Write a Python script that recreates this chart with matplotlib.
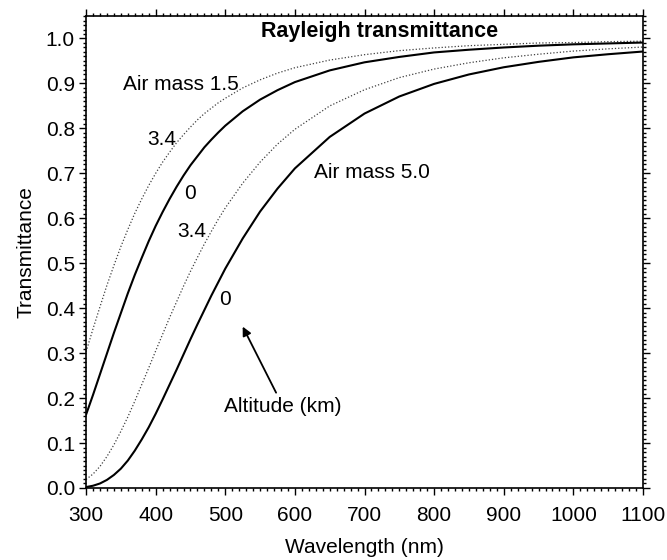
import matplotlib
matplotlib.use("Agg")
import matplotlib.pyplot as plt
from matplotlib.ticker import MultipleLocator

plt.rcParams['font.family'] = ['Liberation Sans', 'DejaVu Sans']

# Wavelength (nm)
wavelength = [300, 310, 320, 330, 340, 350, 360, 370, 380, 390, 400, 410, 420, 430,
              440, 450, 460, 470, 480, 490, 500, 525, 550, 575, 600, 650, 700, 750,
              800, 850, 900, 950, 1000, 1050, 1100]

# Air mass 1.5, altitude 0 km (solid)
am15_0km = [0.163, 0.207, 0.253, 0.299, 0.345, 0.389, 0.433, 0.474, 0.512, 0.549,
            0.583, 0.614, 0.643, 0.670, 0.695, 0.718, 0.738, 0.758, 0.775, 0.791,
            0.806, 0.838, 0.864, 0.885, 0.903, 0.929, 0.947, 0.959, 0.969, 0.975,
            0.980, 0.984, 0.987, 0.989, 0.991]

# Air mass 1.5, altitude 3.4 km (dotted)
am15_34km = [0.303, 0.354, 0.403, 0.451, 0.495, 0.537, 0.575, 0.611, 0.643, 0.673,
             0.700, 0.725, 0.747, 0.768, 0.786, 0.803, 0.819, 0.833, 0.845, 0.857,
             0.867, 0.890, 0.908, 0.923, 0.935, 0.952, 0.964, 0.973, 0.979, 0.984,
             0.987, 0.990, 0.991, 0.993, 0.994]

# Air mass 5.0, altitude 0 km (solid)
am50_0km = [0.002, 0.005, 0.010, 0.018, 0.029, 0.043, 0.061, 0.083, 0.108, 0.135,
            0.165, 0.197, 0.230, 0.263, 0.297, 0.331, 0.364, 0.396, 0.428, 0.458,
            0.488, 0.555, 0.615, 0.666, 0.711, 0.781, 0.833, 0.871, 0.899, 0.920,
            0.936, 0.948, 0.958, 0.965, 0.971]

# Air mass 5.0, altitude 3.4 km (dotted)
am50_34km = [0.019, 0.031, 0.048, 0.070, 0.096, 0.126, 0.158, 0.193, 0.230, 0.267,
             0.305, 0.342, 0.379, 0.414, 0.449, 0.482, 0.513, 0.543, 0.571, 0.598,
             0.623, 0.678, 0.725, 0.765, 0.798, 0.850, 0.886, 0.913, 0.932, 0.946,
             0.957, 0.965, 0.972, 0.977, 0.981]

fig = plt.figure(figsize=(6.67, 5.6), dpi=100)
ax = fig.add_axes([0.129, 0.1286, 0.835, 0.8428])

solid_kw = dict(color='black', lw=1.5, solid_capstyle='round')
dot_kw = dict(color='0.25', lw=0.9, linestyle=(0, (1, 1.6)))

ax.plot(wavelength, am15_34km, **dot_kw)
ax.plot(wavelength, am15_0km, **solid_kw)
ax.plot(wavelength, am50_34km, **dot_kw)
ax.plot(wavelength, am50_0km, **solid_kw)

ax.set_xlim(300, 1100)
ax.set_ylim(0.0, 1.05)
ax.xaxis.set_major_locator(MultipleLocator(100))
ax.xaxis.set_minor_locator(MultipleLocator(10))
ax.yaxis.set_major_locator(MultipleLocator(0.1))
ax.yaxis.set_minor_locator(MultipleLocator(0.01))
ax.set_yticks([i / 10 for i in range(11)])
ax.set_yticklabels([f"{i / 10:.1f}" for i in range(11)])

ax.tick_params(which='both', direction='out', top=True, right=True,
               labeltop=False, labelright=False, width=1.0, colors='black')
ax.tick_params(which='major', length=5, labelsize=15)
ax.tick_params(axis='x', which='major', pad=8)
ax.tick_params(axis='y', which='major', pad=3)
ax.tick_params(which='minor', length=2.5)
for s in ax.spines.values():
    s.set_linewidth(1.2)

ax.set_xlabel("Wavelength (nm)", fontsize=15, labelpad=9)
ax.set_ylabel("Transmittance", fontsize=15, labelpad=7)

txt = dict(fontsize=15, ha='center', va='center')
ax.text(722, 1.016, "Rayleigh transmittance", fontsize=15.5, fontweight='bold',
        ha='center', va='center')
ax.text(436, 0.898, "Air mass 1.5", **txt)
ax.text(409, 0.775, "3.4", **txt)
ax.text(449, 0.656, "0", **txt)
ax.text(452, 0.571, "3.4", **txt)
ax.text(500, 0.419, "0", **txt)
ax.text(710, 0.701, "Air mass 5.0", **txt)
ax.text(582, 0.181, "Altitude (km)", **txt)
ax.annotate("", xy=(525, 0.359), xytext=(573, 0.212),
            arrowprops=dict(arrowstyle='-|>', color='black', lw=1.3,
                            mutation_scale=13, shrinkA=0, shrinkB=0))

fig.savefig("out.png", dpi=100)
